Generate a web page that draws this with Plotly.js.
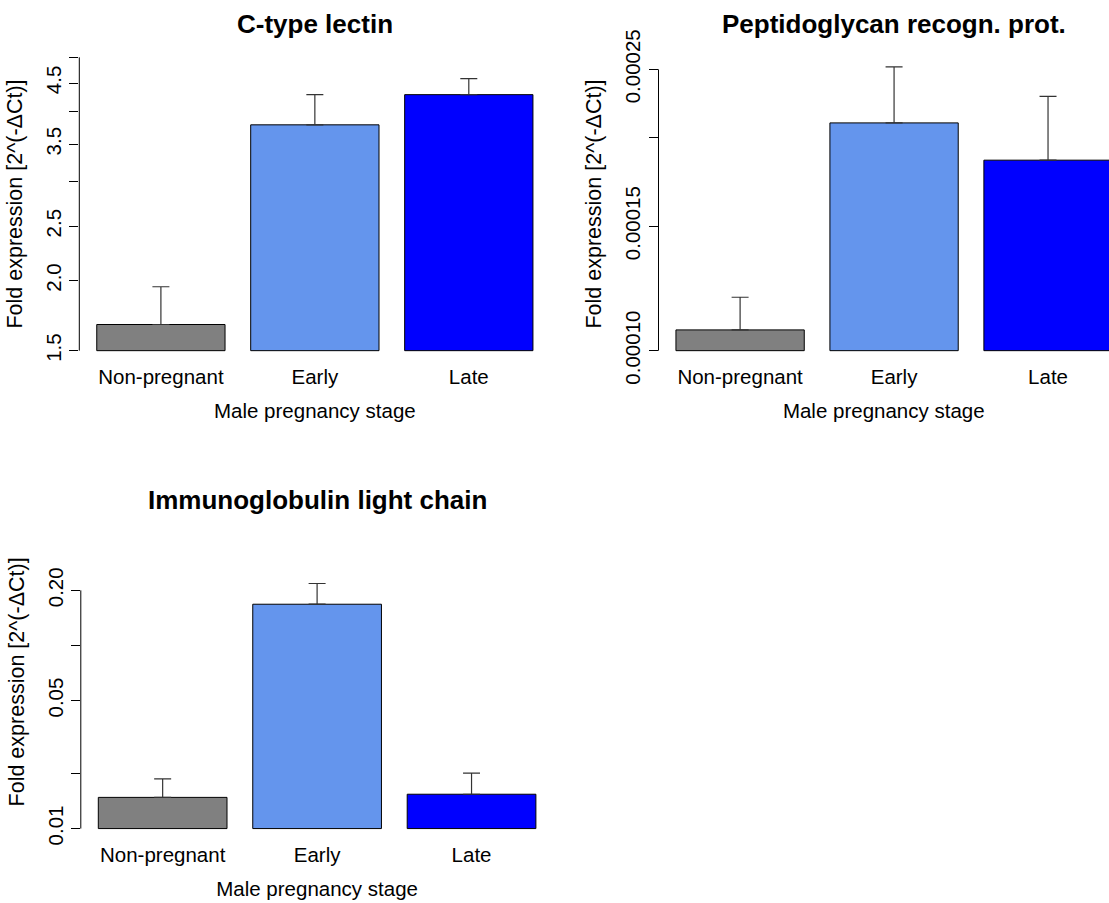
<!DOCTYPE html>
<html><head><meta charset="utf-8">
<script src="https://cdn.plot.ly/plotly-3.0.1.min.js"></script>
<style>body{margin:0;background:#fff}#chart{width:1109px;height:903px}</style>
</head><body><div id="chart"></div>
<script>
// ---- data ----
const categories = ['Non-pregnant', 'Early', 'Late'];
const barColors = ['#808080', '#6495ED', '#0000FF'];
const panelTitles = ['C-type lectin', 'Peptidoglycan recogn. prot.', 'Immunoglobulin light chain'];
const xTitle = 'Male pregnancy stage';
const yTitle = 'Fold expression [2^(-\u0394Ct)]';

const lectinMean  = [1.67, 3.79, 4.29];
const lectinUpper = [1.95, 4.29, 4.58];
const lectinYlim  = [1.5, 5];
const lectinTicks = [1.5, 2, 2.5, 3, 3.5, 4, 4.5, 5];
const lectinTickText = ['1.5', '2.0', '2.5', '', '3.5', '', '4.5', ''];

const pgrpMean  = [0.000107, 0.000210, 0.000186];
const pgrpUpper = [0.000119, 0.000252, 0.000229];
const pgrpYlim  = [0.0001, 0.00026];
const pgrpTicks = [0.0001, 0.00015, 0.0002, 0.00025];
const pgrpTickText = ['0.00010', '0.00015', '', '0.00025'];

const iglMean  = [0.0148, 0.168, 0.0154];
const iglUpper = [0.0187, 0.218, 0.0201];
const iglYlim  = [0.01, 0.4];
const iglTicks = [0.01, 0.02, 0.05, 0.1, 0.2];
const iglTickText = ['0.01', '', '0.05', '', '0.20'];

// ---- helpers ----
const W = 1109, H = 903;
const FONT = '"Liberation Sans", Arial, Helvetica, sans-serif';

function logRange(ylim) {
  const a = Math.log10(ylim[0]), b = Math.log10(ylim[1]);
  const pad = 0.04 * (b - a);
  return [a - pad, b + pad];
}

function barTrace(mean, upper, ylim, xa, ya) {
  const base = ylim[0];
  return {
    type: 'bar', x: categories,
    y: mean.map(v => v - base),
    base: mean.map(() => base),
    marker: {color: barColors, line: {color: '#000', width: 1}},
    error_y: {
      type: 'data', symmetric: false,
      array: upper.map((u, i) => u - mean[i]),
      arrayminus: mean.map(() => 0),
      color: '#333', thickness: 1.2, width: 8.5
    },
    xaxis: xa, yaxis: ya, hoverinfo: 'skip', showlegend: false
  };
}

function xAxis(domain, range, anchor) {
  return {
    domain: domain, anchor: anchor, type: 'category', range: range,
    showline: false, showgrid: false, zeroline: false, ticks: '',
    tickfont: {size: 20.5, color: '#000'},
    title: {text: xTitle, font: {size: 20.5, color: '#000'}, standoff: 16},
    automargin: false, fixedrange: true
  };
}

function yAxis(domain, ylim, tickvals, ticktext, anchor) {
  return {
    domain: domain, anchor: anchor, type: 'log', range: logRange(ylim),
    tickmode: 'array', tickvals: tickvals, ticktext: ticktext,
    ticks: 'outside', ticklen: 9, tickwidth: 1, tickcolor: '#000',
    tickangle: -90, tickfont: {size: 20.5, color: '#000'},
    showline: false, showgrid: false, zeroline: false,
    title: {text: yTitle, font: {size: 21.5, color: '#000'}, standoff: 13},
    automargin: false, fixedrange: true
  };
}

function axisLine(xref, yref, ticks) {
  return {
    type: 'line', xref: xref + ' domain', yref: yref,
    x0: 0, x1: 0, y0: ticks[0], y1: ticks[ticks.length - 1],
    line: {color: '#000', width: 1}
  };
}

const px = (a, b) => [a / W, b / W];
const py = (top, bottom) => [1 - bottom / H, 1 - top / H];

const data = [
  barTrace(lectinMean, lectinUpper, lectinYlim, 'x', 'y'),
  barTrace(pgrpMean, pgrpUpper, pgrpYlim, 'x2', 'y2'),
  barTrace(iglMean, iglUpper, iglYlim, 'x3', 'y3')
];

const layout = {
  width: W, height: H,
  margin: {l: 0, r: 0, t: 0, b: 0},
  paper_bgcolor: '#fff', plot_bgcolor: '#fff',
  font: {family: FONT, size: 20, color: '#000'},
  bargap: 1 - 1 / 1.2,
  xaxis:  xAxis(px(79.3, 550.4), [-0.53, 2.53], 'y'),
  yaxis:  yAxis(py(45.6, 362.4), lectinYlim, lectinTicks, lectinTickText, 'x'),
  xaxis2: xAxis(px(658.5, 1109), [-0.53, 2.396], 'y2'),
  yaxis2: yAxis(py(45.6, 362.4), pgrpYlim, pgrpTicks, pgrpTickText, 'x2'),
  xaxis3: xAxis(px(80.8, 553.4), [-0.53, 2.53], 'y3'),
  yaxis3: yAxis(py(523.5, 840.3), iglYlim, iglTicks, iglTickText, 'x3'),
  shapes: [
    axisLine('x', 'y', lectinTicks),
    axisLine('x2', 'y2', pgrpTicks),
    axisLine('x3', 'y3', iglTicks)
  ],
  annotations: [
    {text: '<b>' + panelTitles[0] + '</b>', x: 314.8 / W, y: 1 - 24 / H},
    {text: '<b>' + panelTitles[1] + '</b>', x: 894 / W, y: 1 - 24 / H},
    {text: '<b>' + panelTitles[2] + '</b>', x: 317.1 / W, y: 1 - 499.5 / H}
  ].map(a => Object.assign(a, {
    xref: 'paper', yref: 'paper', showarrow: false,
    xanchor: 'center', yanchor: 'middle',
    font: {size: 26, color: '#000', family: FONT}
  }))
};

Plotly.newPlot('chart', data, layout, {staticPlot: true, displayModeBar: false});
</script>
</body></html>
